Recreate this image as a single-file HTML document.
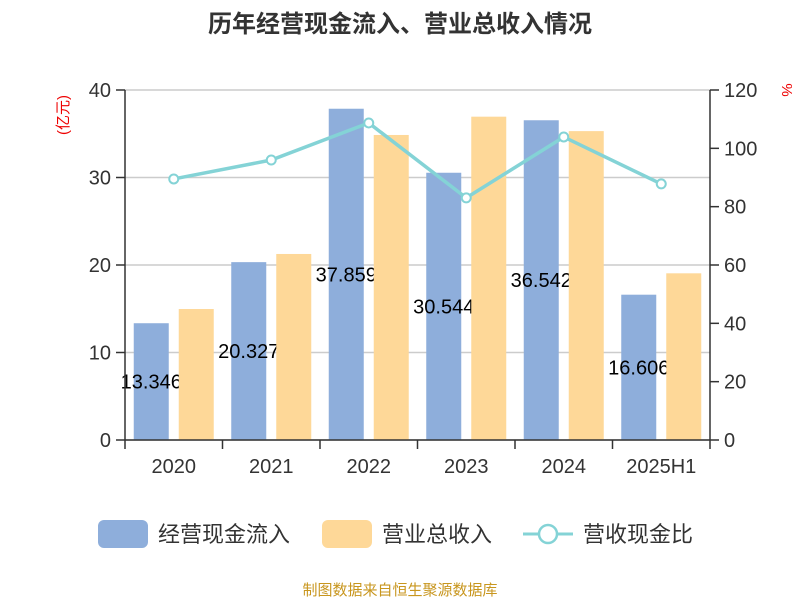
<!DOCTYPE html>
<html><head><meta charset="utf-8">
<style>
body{margin:0;background:#fff;}
svg{display:block;font-family:"Liberation Sans","Noto Sans CJK SC",sans-serif;}
</style></head>
<body>
<svg id="chart" width="800" height="600" viewBox="0 0 800 600">
<text x="400" y="32" text-anchor="middle" font-size="24" font-weight="bold" fill="#333">历年经营现金流入、营业总收入情况</text>
<text transform="translate(68,115) rotate(-90)" text-anchor="middle" font-size="15" fill="#e00">(亿元)</text>
<text transform="translate(782,90) rotate(90)" text-anchor="middle" font-size="15" fill="#e00">%</text>
<g id="grid"></g>
<g id="bars"></g>
<g id="labels"></g>
<g id="line"></g>
<g id="axes"></g>
<g>
<rect x="98" y="520" width="50" height="28" rx="6" fill="#8eaedb"/>
<text x="158" y="542" font-size="22" fill="#333">经营现金流入</text>
<rect x="322" y="520" width="50" height="28" rx="6" fill="#fed898"/>
<text x="382" y="542" font-size="22" fill="#333">营业总收入</text>
<line x1="523" y1="534" x2="573" y2="534" stroke="#84d3d6" stroke-width="3"/>
<circle cx="548" cy="534" r="9" fill="#fff" stroke="#84d3d6" stroke-width="2.5"/>
<text x="583" y="542" font-size="22" fill="#333">营收现金比</text>
</g>
<text x="400" y="595" text-anchor="middle" font-size="15" fill="#c8961e">制图数据来自恒生聚源数据库</text>
</svg>
<script>
const categories=["2020","2021","2022","2023","2024","2025H1"];
const cashInflow=[13.346,20.327,37.859,30.544,36.542,16.606];
const revenue=[14.97,21.26,34.86,36.95,35.3,19.05];
const ratio=[89.5,96.0,108.7,83.0,103.9,87.8];
const leftTicks=[0,10,20,30,40];
const rightTicks=[0,20,40,60,80,100,120];
const NS="http://www.w3.org/2000/svg";
const X0=125,X1=710,Y0=440,Y1=90;
const band=(X1-X0)/categories.length;
const yL=v=>Y0-(v/40)*(Y0-Y1);
const yR=v=>Y0-(v/120)*(Y0-Y1);
const xc=i=>X0+band*(i+0.5);
function mk(tag,attrs,parent,text){const e=document.createElementNS(NS,tag);for(const k in attrs)e.setAttribute(k,attrs[k]);if(text!==undefined)e.textContent=text;document.getElementById(parent).appendChild(e);return e;}
leftTicks.forEach(t=>{
 const g=mk('line',{x1:X0,x2:X1,y1:yL(t),y2:yL(t),stroke:'#ccc','stroke-width':1.5},'grid');
 
 
 const tk=mk('line',{x1:X0-9,x2:X0,y1:yL(t),y2:yL(t),stroke:'#333','stroke-width':1.5},'axes');
 
 
 const l=mk('text',{x:X0-14,y:yL(t)+7,'text-anchor':'end','font-size':20,fill:'#333'},'axes',String(t));
 
 
});
rightTicks.forEach(t=>{
 const tk=mk('line',{x1:X1,x2:X1+9,y1:yR(t),y2:yR(t),stroke:'#333','stroke-width':1.5},'axes');
 
 
 const l=mk('text',{x:X1+14,y:yR(t)+7,'font-size':20,fill:'#333'},'axes',String(t));
 
 
});
let a=mk('line',{x1:X0,x2:X0,y1:Y1,y2:Y0,stroke:'#333','stroke-width':1.5},'axes');


a=mk('line',{x1:X1,x2:X1,y1:Y1,y2:Y0,stroke:'#333','stroke-width':1.5},'axes');


a=mk('line',{x1:X0,x2:X1,y1:Y0,y2:Y0,stroke:'#333','stroke-width':1.5},'axes');


for(let i=0;i<=categories.length;i++){
 const tk=mk('line',{x1:X0+band*i,x2:X0+band*i,y1:Y0,y2:Y0+9,stroke:'#333','stroke-width':1.5},'axes');
 
 
}
categories.forEach((c,i)=>{
 const l=mk('text',{x:xc(i),y:473,'text-anchor':'middle','font-size':20,fill:'#333'},'axes',c);
 
 
 const b=mk('rect',{x:xc(i)-40,y:yL(cashInflow[i]),width:35,height:Y0-yL(cashInflow[i]),fill:'#8eaedb'},'bars');
 
 
 const lb=mk('text',{x:xc(i)-22.5,y:(yL(cashInflow[i])+Y0)/2+7,'text-anchor':'middle','font-size':20,fill:'#000'},'labels',cashInflow[i].toFixed(3));
 
 
});
categories.forEach((c,i)=>{
 const b=mk('rect',{x:xc(i)+5,y:yL(revenue[i]),width:35,height:Y0-yL(revenue[i]),fill:'#fed898'},'line');
 
 
});
const pts=ratio.map((v,i)=>xc(i)+','+yR(v)).join(' ');
const pl=mk('polyline',{points:pts,fill:'none',stroke:'#84d3d6','stroke-width':3.5},'line');


ratio.forEach((v,i)=>{
 const p=mk('circle',{cx:xc(i),cy:yR(v),r:4.5,fill:'#fff',stroke:'#84d3d6','stroke-width':2},'line');
 
 
});
</script>
</body></html>
